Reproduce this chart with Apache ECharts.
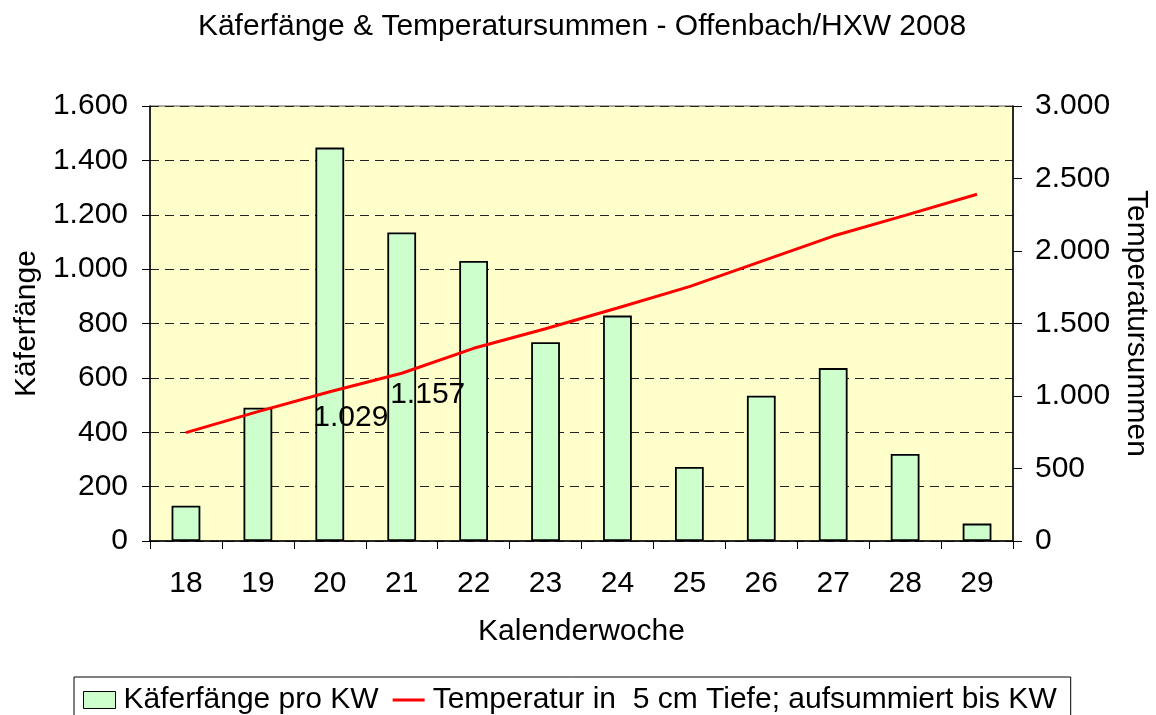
<!DOCTYPE html>
<html>
<head>
<meta charset="utf-8">
<script src="https://cdn.jsdelivr.net/npm/echarts@6/dist/echarts.min.js"></script>
<style>
html,body{margin:0;padding:0;background:#fff;}
#chart{width:1156px;height:715px;}
</style>
</head>
<body>
<div id="chart"></div>
<script>
const weeks = ['18', '19', '20', '21', '22', '23', '24', '25', '26', '27', '28', '29'];
const beetleCatches = [130, 490, 1447, 1135, 1030, 731, 829, 272, 534, 636, 320, 64];
const tempSums = [747, 892, 1029, 1157, 1329, 1464, 1607, 1754, 1929, 2103, 2246, 2391];
const labelledWeeks = ['20', '21'];
const labelOffsets = [[21, 26], [26, 21]];

const FONT = "'Liberation Sans', Arial, sans-serif";
const FS = 30;
function de(n) { return String(Math.round(n)).replace(/\B(?=(\d{3})+(?!\d))/g, '.'); }

const lineData = tempSums.map(function (v, i) {
  const k = labelledWeeks.indexOf(weeks[i]);
  if (k < 0) return { value: v };
  return {
    value: v,
    symbol: 'circle',
    symbolSize: 1,
    label: { show: true, position: 'inside', offset: labelOffsets[k], formatter: function (p) { return de(p.value); },
      fontFamily: FONT, fontSize: FS, color: '#000' }
  };
});

const chart = echarts.init(document.getElementById('chart'), null, { renderer: 'canvas' });
chart.setOption({
  animation: false,
  backgroundColor: '#ffffff',
  textStyle: { fontFamily: FONT },
  title: {
    text: 'Käferfänge & Temperatursummen - Offenbach/HXW 2008',
    left: 577, top: 7, textAlign: 'center',
    textStyle: { fontFamily: FONT, fontSize: FS, fontWeight: 'normal', color: '#000' }
  },
  grid: {
    left: 150, right: 143, top: 106, bottom: 174,
    show: true, backgroundColor: '#ffffcc', borderColor: '#555', borderWidth: 1,
    containLabel: false, outerBoundsMode: 'none'
  },
  legend: {
    left: 74, top: 677,
    orient: 'horizontal',
    padding: [8, 14, 12, 9],
    itemGap: 14,
    itemWidth: 32, itemHeight: 17,
    borderColor: '#000', borderWidth: 1,
    textStyle: { fontFamily: FONT, fontSize: FS, color: '#000', padding: [0, 0, 0, 3] },
    data: [
      { name: 'Käferfänge pro KW', icon: 'rect', itemStyle: { color: '#ccffcc', borderColor: '#000', borderWidth: 1 } },
      { name: 'Temperatur in  5 cm Tiefe; aufsummiert bis KW',
        icon: 'path://M0,0 L0,0 M0,7 L32,7 L32,10 L0,10 Z M32,17 L32,17',
        itemStyle: { color: '#ff0000', borderWidth: 0 } }
    ]
  },
  xAxis: {
    type: 'category',
    data: weeks,
    boundaryGap: true,
    name: 'Kalenderwoche',
    nameLocation: 'middle',
    nameGap: 76,
    nameTextStyle: { fontFamily: FONT, fontSize: FS, color: '#000' },
    axisLine: { lineStyle: { color: '#000', width: 1.5 } },
    axisTick: { show: true, length: 8, lineStyle: { color: '#000' } },
    axisLabel: { fontFamily: FONT, fontSize: FS, color: '#000', margin: 28 }
  },
  yAxis: [
    {
      type: 'value', min: 0, max: 1600, interval: 200,
      name: 'Käferfänge', nameLocation: 'middle', nameGap: 108, nameRotate: 90,
      nameTextStyle: { fontFamily: FONT, fontSize: FS, color: '#000' },
      axisLine: { show: true, lineStyle: { color: '#000', width: 1.5 } },
      axisTick: { show: true, length: 8, lineStyle: { color: '#000' } },
      axisLabel: { fontFamily: FONT, fontSize: FS, color: '#000', margin: 22, formatter: de },
      splitLine: { show: true, lineStyle: { color: '#222', width: 1, type: [9, 6] } }
    },
    {
      type: 'value', min: 0, max: 3000, interval: 500, position: 'right',
      name: 'Temperatursummen', nameLocation: 'middle', nameGap: 108, nameRotate: -90,
      nameTextStyle: { fontFamily: FONT, fontSize: FS, color: '#000' },
      axisLine: { show: true, lineStyle: { color: '#000', width: 1.5 } },
      axisTick: { show: true, length: 9, lineStyle: { color: '#000' } },
      axisLabel: { fontFamily: FONT, fontSize: FS, color: '#000', margin: 22, formatter: de },
      splitLine: { show: false }
    }
  ],
  series: [
    {
      name: 'Käferfänge pro KW',
      type: 'bar',
      yAxisIndex: 0,
      data: beetleCatches,
      barWidth: '40%',
      itemStyle: { color: '#ccffcc', borderColor: '#000', borderWidth: 1.8 }
    },
    {
      name: 'Temperatur in  5 cm Tiefe; aufsummiert bis KW',
      type: 'line',
      yAxisIndex: 1,
      data: lineData,
      symbol: 'none',
      showSymbol: true,
      color: '#ff0000',
      lineStyle: { color: '#ff0000', width: 3 },
      z: 5
    }
  ]
});
</script>
</body>
</html>
